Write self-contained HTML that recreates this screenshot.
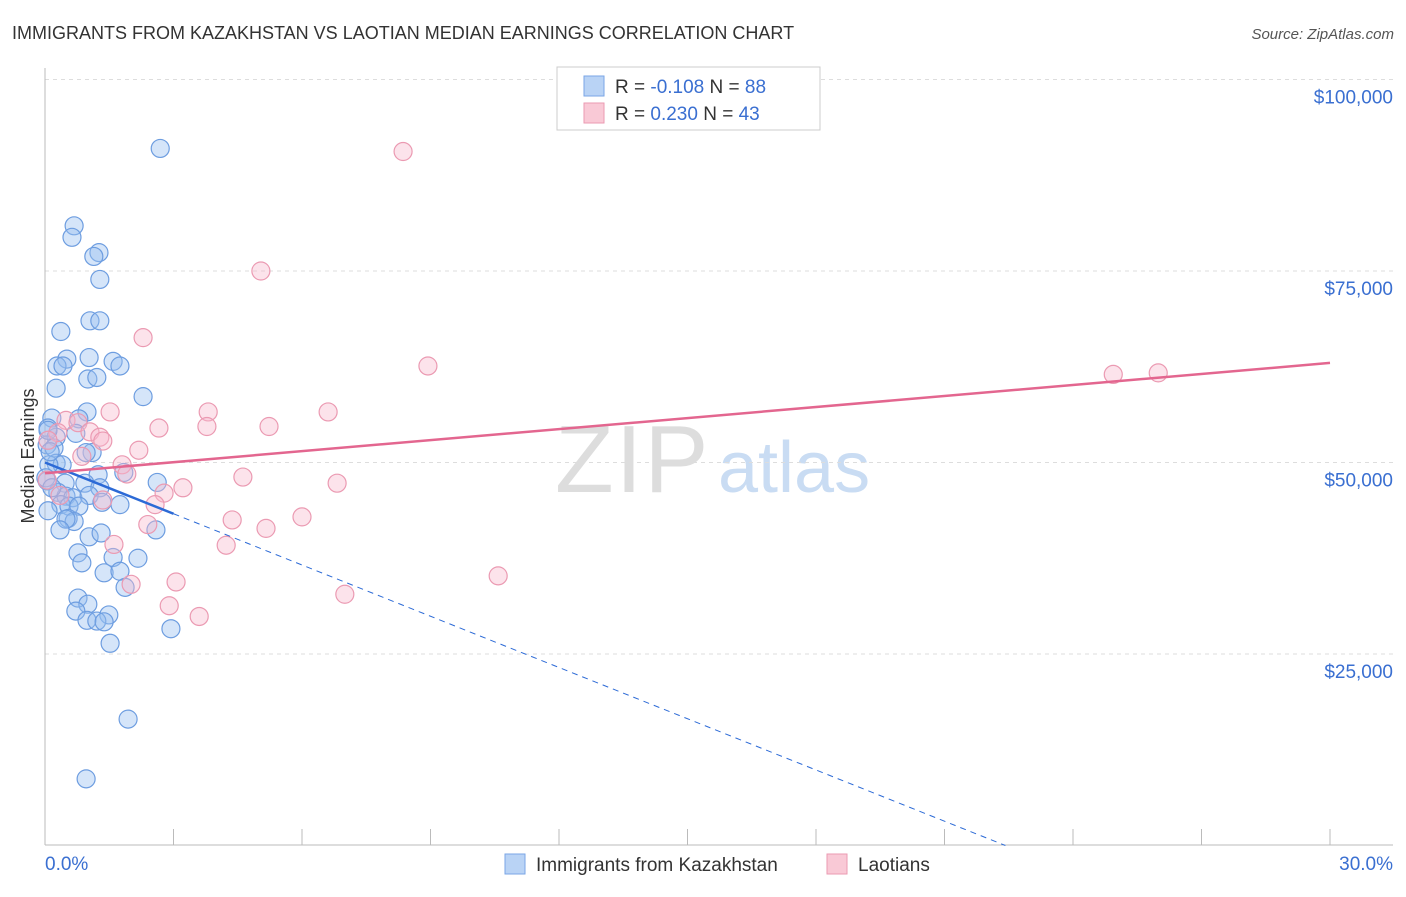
<!DOCTYPE html>
<html><head><meta charset="utf-8"><style>
body{margin:0;background:#fff;font-family:"Liberation Sans",sans-serif}
svg text{font-family:"Liberation Sans",sans-serif}
</style></head><body>
<svg id="chart" width="1406" height="892" viewBox="0 0 1406 892" xmlns="http://www.w3.org/2000/svg">
<text x="12" y="39" font-size="18" fill="#333">IMMIGRANTS FROM KAZAKHSTAN VS LAOTIAN MEDIAN EARNINGS CORRELATION CHART</text>
<text x="1394" y="39" font-size="15" fill="#555" text-anchor="end" font-style="italic">Source: ZipAtlas.com</text>
<g>
<text x="555" y="492" font-size="96" fill="#ddd" font-family="Liberation Serif" letter-spacing="2">ZIP</text>
<text x="718" y="492" font-size="72" fill="#c9dcf3">atlas</text>
</g>
<g id="grid"></g>
<g id="axes"></g>
<g id="pts"></g>
<g id="trends"></g>
<text transform="translate(34,456) rotate(-90)" font-size="18" fill="#333" text-anchor="middle">Median Earnings</text>
<g>
<rect x="557" y="67" width="263" height="63" fill="#fff" stroke="#ccc"/>
<rect x="584" y="76" width="20" height="20" fill="#b9d3f5" stroke="#7aa6e6"/>
<rect x="584" y="103" width="20" height="20" fill="#f9c9d6" stroke="#eb9ab2"/>
<text x="615" y="93" font-size="19" fill="#333">R = <tspan fill="#3a6fd1">-0.108</tspan>   N = <tspan fill="#3a6fd1">88</tspan></text>
<text x="615" y="120" font-size="19" fill="#333">R = <tspan fill="#3a6fd1"> 0.230</tspan>   N = <tspan fill="#3a6fd1">43</tspan></text>
</g>
<g>
<rect x="505" y="854" width="20" height="20" fill="#b9d3f5" stroke="#7aa6e6"/>
<text x="536" y="871" font-size="19" fill="#333">Immigrants from Kazakhstan</text>
<rect x="827" y="854" width="20" height="20" fill="#f9c9d6" stroke="#eb9ab2"/>
<text x="858" y="871" font-size="19" fill="#333">Laotians</text>
</g>
</svg>
<script>
const yTicks=[25000,50000,75000,100000];
const yTickLabels=["$25,000","$50,000","$75,000","$100,000"];
const xTickLabels=["0.0%","30.0%"];
const blueX=[2.69,0.68,0.63,1.26,1.14,1.28,1.05,1.28,0.37,0.51,1.03,1.59,0.28,0.42,1.75,1.00,1.21,0.26,2.29,0.98,0.16,0.79,0.07,0.26,0.72,1.10,0.05,0.21,0.96,0.26,0.40,0.09,1.24,1.84,0.05,0.47,0.93,2.62,1.28,0.30,0.49,0.65,1.03,0.37,0.56,0.79,1.33,1.75,0.07,0.54,0.68,0.49,0.35,1.03,1.31,2.59,0.77,1.59,2.17,0.86,1.38,1.75,1.87,0.77,1.00,0.72,1.49,0.98,1.21,1.38,2.94,1.52,1.94,0.96,0.07,0.12,0.02,0.16];
const blueY=[91.0,80.9,79.4,77.4,76.9,73.9,68.5,68.5,67.1,63.5,63.7,63.2,62.6,62.6,62.6,60.9,61.1,59.7,58.6,56.6,55.8,55.7,54.5,53.3,53.8,51.3,52.3,51.9,51.3,49.9,49.7,49.7,48.4,48.7,47.6,47.3,47.3,47.4,46.7,46.1,45.6,45.4,45.7,44.5,44.3,44.3,44.8,44.5,43.7,42.7,42.3,42.6,41.2,40.3,40.8,41.2,38.2,37.6,37.5,36.9,35.6,35.8,33.7,32.3,31.5,30.6,30.1,29.4,29.3,29.2,28.3,26.4,16.5,8.7,54.2,51.4,48.0,46.7];
const pinkX=[8.36,5.04,2.29,8.94,24.94,25.99,1.52,3.81,6.61,0.49,0.77,3.78,5.23,2.66,1.05,0.30,1.28,1.35,2.19,0.86,1.80,1.91,4.62,6.82,3.22,2.78,1.35,2.57,2.40,4.37,5.16,6.00,4.23,1.61,10.58,3.06,2.01,7.00,2.90,3.60,0.05,0.07,0.35];
const pinkY=[90.6,75.0,66.3,62.6,61.5,61.7,56.6,56.6,56.6,55.5,55.2,54.7,54.7,54.5,54.0,53.9,53.3,52.8,51.6,50.8,49.7,48.5,48.1,47.3,46.7,46.0,45.1,44.5,41.9,42.5,41.4,42.9,39.2,39.3,35.2,34.4,34.1,32.8,31.3,29.9,47.7,52.9,45.7];
const blueTrend=[50.0,-2.23];
const pinkTrend=[48.6,0.48];
const NS="http://www.w3.org/2000/svg";
const X=p=>45+p/30*1285, Y=k=>845.5-k*1000/25000*191.5;
function mk(t,a,parent){const e=document.createElementNS(NS,t);for(const k in a)e.setAttribute(k,a[k]);parent.appendChild(e);return e;}
const grid=document.getElementById('grid'),axes=document.getElementById('axes'),pts=document.getElementById('pts'),tr=document.getElementById('trends');
yTicks.forEach((v,i)=>{
 const l=mk('line',{x1:45,x2:1393,y1:Y(v/1000),y2:Y(v/1000),stroke:'#ddd','stroke-dasharray':'4,4'},grid);
 
 
 const t=mk('text',{x:1393,y:Y(v/1000)+24,'font-size':19,fill:'#3a6fd1','text-anchor':'end'},axes);
 t.textContent=yTickLabels[i];
 
 
});
const ax=mk('line',{x1:45,x2:45,y1:68,y2:845,stroke:'#bbb'},axes);


const bx=mk('line',{x1:45,x2:1393,y1:845,y2:845,stroke:'#bbb'},axes);


for(let p=3;p<=30;p+=3){const t=mk('line',{x1:X(p),x2:X(p),y1:829,y2:845,stroke:'#bbb'},axes);
 
 }
[[0,'start',45],[30,'end',1393]].forEach((d,i)=>{const t=mk('text',{x:d[2],y:870,'font-size':19,fill:'#3a6fd1','text-anchor':d[1]},axes);t.textContent=xTickLabels[i];
 
 });
blueX.forEach((x,i)=>{const c=mk('circle',{cx:X(x),cy:Y(blueY[i]),r:9,fill:'rgba(150,190,240,0.4)',stroke:'#6d9de0','stroke-width':1.2},pts);
 
 });
pinkX.forEach((x,i)=>{const c=mk('circle',{cx:X(x),cy:Y(pinkY[i]),r:9,fill:'rgba(248,185,205,0.4)',stroke:'#eb9ab2','stroke-width':1.2},pts);
 
 });
const bz=-blueTrend[0]/blueTrend[1];
const bs=mk('line',{x1:X(0),y1:Y(blueTrend[0]),x2:X(3),y2:Y(blueTrend[0]+3*blueTrend[1]),stroke:'#2c6ad6','stroke-width':2.5},tr);


const bd=mk('line',{x1:X(3),y1:Y(blueTrend[0]+3*blueTrend[1]),x2:X(bz),y2:Y(0),stroke:'#2c6ad6','stroke-width':1,'stroke-dasharray':'6,5'},tr);


const pl=mk('line',{x1:X(0),y1:Y(pinkTrend[0]),x2:X(30),y2:Y(pinkTrend[0]+30*pinkTrend[1]),stroke:'#e3668f','stroke-width':2.5},tr);


</script>
</body></html>
